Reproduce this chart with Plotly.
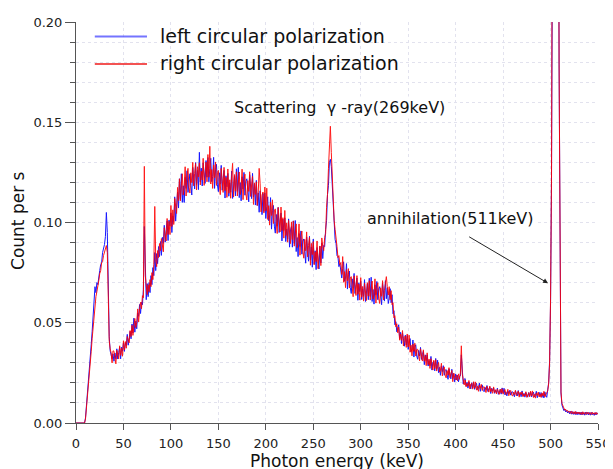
import numpy as np
import plotly.graph_objects as go

# Photon energy bins (keV)
energy_keV = list(range(0, 551))

# Count rate, in units of 1e-4 counts per second, one value per keV bin
left_cps_e4 = [
    0, 0, 0, 0, 0, 0, 0, 0, 0, 0,
    25, 80, 145, 200, 270, 330, 390, 455, 540, 640,
    680, 650, 700, 690, 740, 760, 790, 800, 850, 870,
    890, 930, 1050, 950, 680, 430, 360, 340, 320, 345,
    308, 349, 319, 370, 319, 352, 378, 320, 378, 358,
    400, 357, 399, 387, 442, 388, 439, 457, 420, 494,
    449, 523, 453, 508, 470, 549, 532, 591, 546, 602,
    590, 665, 980, 700, 615, 695, 630, 700, 650, 735,
    690, 775, 735, 850, 760, 845, 795, 880, 830, 905,
    836, 926, 896, 986, 902, 962, 1008, 910, 1012, 982,
    1048, 950, 1033, 1005, 1128, 1007, 1113, 1152, 1072, 1218,
    1115, 1243, 1100, 1183, 1100, 1225, 1170, 1258, 1150, 1220,
    1243, 1185, 1137, 1275, 1226, 1167, 1299, 1189, 1260, 1164,
    1350, 1202, 1271, 1182, 1297, 1253, 1195, 1309, 1226, 1324,
    1203, 1270, 1320, 1204, 1230, 1325, 1170, 1264, 1290, 1188,
    1154, 1248, 1191, 1285, 1161, 1218, 1260, 1122, 1233, 1178,
    1245, 1131, 1198, 1151, 1256, 1120, 1210, 1231, 1133, 1268,
    1155, 1275, 1124, 1199, 1108, 1228, 1167, 1250, 1136, 1204,
    1218, 1156, 1103, 1238, 1183, 1119, 1245, 1127, 1190, 1087,
    1210, 1085, 1148, 1051, 1158, 1106, 1039, 1145, 1055, 1147,
    1020, 1081, 1128, 1009, 1032, 1124, 967, 1060, 1085, 982,
    947, 1040, 982, 1075, 950, 1006, 1047, 908, 1017, 960,
    1023, 905, 968, 917, 1018, 877, 963, 980, 877, 1008,
    895, 1010, 855, 925, 830, 945, 880, 958, 842, 907,
    918, 853, 797, 928, 872, 807, 931, 814, 878, 777,
    917, 794, 859, 765, 875, 828, 768, 881, 798, 898,
    820, 885, 880, 965, 1010, 1140, 1185, 1300, 1315, 1280,
    1200, 1070, 1000, 915, 895, 835, 830, 780, 795, 750,
    723, 770, 804, 707, 723, 795, 668, 740, 758, 675,
    646, 719, 672, 746, 646, 690, 723, 612, 699, 655,
    707, 616, 669, 632, 715, 606, 677, 694, 615, 722,
    631, 727, 606, 666, 593, 689, 640, 706, 615, 669,
    680, 632, 590, 698, 656, 608, 710, 620, 674, 596,
    620, 670, 600, 640, 545, 560, 490, 505, 455, 480,
    490, 421, 452, 396, 449, 420, 383, 438, 389, 436,
    367, 398, 421, 356, 367, 414, 329, 378, 390, 334,
    318, 362, 334, 377, 317, 341, 358, 291, 340, 311,
    340, 284, 312, 286, 332, 264, 303, 309, 260, 322,
    268, 313, 251, 278, 238, 283, 256, 286, 238, 263,
    267, 241, 218, 270, 247, 220, 268, 221, 246, 205,
    245, 215, 238, 205, 232, 235, 340, 240, 195, 218,
    222, 185, 203, 174, 205, 190, 170, 201, 175, 202,
    168, 185, 198, 167, 174, 199, 158, 183, 190, 163,
    156, 178, 165, 187, 157, 171, 180, 147, 173, 160,
    175, 148, 163, 151, 174, 143, 162, 167, 144, 175,
    149, 173, 140, 155, 135, 160, 147, 163, 139, 154,
    156, 143, 131, 160, 148, 135, 162, 137, 151, 131,
    160, 134, 148, 129, 152, 142, 129, 152, 135, 155,
    130, 144, 154, 130, 137, 158, 126, 146, 153, 132,
    152, 128, 147, 125, 155, 138, 128, 165, 200, 310,
    600, 1200, 3500, 5800, 6000, 6000, 5900, 5600, 3600, 1800,
    500, 150, 90, 75, 62, 70, 55, 62, 50, 60,
    46, 58, 44, 57, 43, 55, 42, 56, 41, 54,
    42, 54, 40, 55, 41, 52, 39, 54, 42, 53,
    40, 52, 39, 53, 41, 50, 38, 52, 40, 51,
    46,
]

right_cps_e4 = [
    0, 0, 0, 0, 0, 0, 0, 0, 0, 0,
    20, 70, 130, 185, 250, 305, 355, 420, 480, 550,
    590, 630, 655, 700, 710, 745, 760, 800, 805, 835,
    850, 875, 885, 850, 620, 410, 370, 350, 300, 360,
    358, 324, 295, 363, 344, 320, 385, 337, 374, 333,
    410, 364, 406, 373, 431, 420, 400, 461, 431, 487,
    437, 483, 521, 476, 502, 569, 504, 571, 602, 570,
    635, 625, 1280, 735, 660, 640, 690, 655, 715, 680,
    750, 715, 790, 1080, 815, 780, 860, 825, 895, 860,
    920, 884, 854, 974, 944, 908, 1020, 940, 1006, 940,
    1085, 980, 1063, 990, 1120, 1090, 1045, 1175, 1110, 1218,
    1107, 1183, 1243, 1138, 1175, 1278, 1132, 1235, 1270, 1174,
    1147, 1248, 1199, 1300, 1183, 1245, 1294, 1162, 1278, 1227,
    1298, 1187, 1256, 1212, 1320, 1185, 1278, 1301, 1203, 1339,
    1226, 1380, 1192, 1264, 1170, 1287, 1223, 1302, 1185, 1249,
    1260, 1195, 1139, 1270, 1214, 1150, 1275, 1159, 1225, 1125,
    1267, 1146, 1213, 1121, 1233, 1295, 1127, 1239, 1156, 1253,
    1132, 1200, 1252, 1139, 1168, 1266, 1114, 1212, 1241, 1143,
    1112, 1209, 1155, 1253, 1130, 1187, 1230, 1090, 1198, 1140,
    1203, 1085, 1148, 1270, 1196, 1053, 1137, 1152, 1047, 1177,
    1058, 1171, 1015, 1084, 987, 1101, 1035, 1113, 995, 1058,
    1068, 1002, 945, 1075, 1018, 953, 1077, 960, 1024, 922,
    1060, 935, 998, 902, 1010, 960, 895, 1003, 915, 1008,
    882, 945, 993, 875, 900, 993, 837, 930, 957, 856,
    822, 916, 859, 953, 829, 885, 926, 787, 896, 840,
    905, 789, 854, 805, 908, 770, 861, 883, 785, 923,
    880, 860, 925, 945, 1075, 1140, 1270, 1390, 1480, 1350,
    1215, 1125, 1010, 965, 895, 880, 825, 835, 790, 800,
    741, 830, 702, 755, 675, 765, 710, 770, 674, 723,
    730, 677, 630, 734, 688, 636, 735, 642, 693, 613,
    725, 628, 681, 608, 697, 660, 611, 700, 633, 710,
    613, 667, 708, 618, 641, 719, 598, 676, 699, 621,
    596, 674, 632, 710, 614, 662, 698, 730, 680, 638,
    680, 615, 660, 590, 600, 525, 535, 480, 495, 450,
    478, 413, 444, 412, 461, 384, 427, 434, 377, 444,
    379, 438, 353, 388, 335, 394, 357, 398, 334, 366,
    368, 337, 310, 370, 342, 309, 365, 308, 336, 286,
    350, 291, 319, 272, 321, 296, 264, 313, 271, 315,
    259, 283, 302, 254, 262, 298, 235, 271, 280, 239,
    225, 262, 239, 276, 226, 247, 262, 206, 249, 226,
    215, 240, 210, 245, 218, 250, 385, 245, 222, 190,
    215, 180, 198, 183, 212, 170, 195, 199, 169, 206,
    174, 205, 164, 183, 158, 189, 172, 193, 162, 179,
    181, 166, 152, 183, 170, 154, 184, 156, 171, 148,
    180, 152, 166, 145, 169, 158, 143, 169, 149, 171,
    144, 157, 167, 142, 148, 168, 136, 155, 162, 141,
    134, 154, 142, 163, 136, 149, 159, 129, 153, 142,
    155, 131, 145, 135, 156, 128, 147, 151, 130, 159,
    135, 160, 127, 143, 124, 150, 137, 154, 130, 145,
    128, 150, 135, 158, 130, 146, 152, 160, 195, 300,
    620, 1220, 3520, 5850, 6050, 6020, 5930, 5620, 3580, 1790,
    510, 155, 98, 82, 75, 64, 68, 58, 62, 54,
    58, 48, 60, 46, 56, 45, 58, 44, 55, 46,
    55, 44, 53, 42, 56, 44, 52, 43, 55, 44,
    53, 43, 52, 42, 54, 44, 51, 42, 53, 44,
    48,
]

series_names = ["left circular polarization", "right circular polarization"]
series_colors = ["#0000FF", "#FF0000"]

left_cps = np.array(left_cps_e4) / 1e4
right_cps = np.array(right_cps_e4) / 1e4

FONT = "DejaVu Sans, Noto Sans, sans-serif"
GRID = "#e2e2ee"
AXIS = "#555555"

fig = go.Figure()
fig.add_trace(go.Scatter(x=energy_keV, y=left_cps, mode="lines",
                         name=series_names[0],
                         line=dict(color=series_colors[0], width=1),
                         opacity=0.9, showlegend=False))
fig.add_trace(go.Scatter(x=energy_keV, y=right_cps, mode="lines",
                         name=series_names[1],
                         line=dict(color=series_colors[1], width=1),
                         opacity=0.9, showlegend=False))

# Manual legend (white box hiding the grid, long line samples)
shapes = [
    dict(type="rect", xref="paper", yref="paper", x0=0.027, x1=0.611, y0=0.848, y1=1.0,
         fillcolor="white", line=dict(width=0), layer="between"),
    dict(type="line", xref="paper", yref="paper", x0=0.036, x1=0.136, y0=0.964, y1=0.964,
         line=dict(color="rgba(70,70,255,0.75)", width=2), layer="above"),
    dict(type="line", xref="paper", yref="paper", x0=0.036, x1=0.136, y0=0.895, y1=0.895,
         line=dict(color="rgba(240,40,40,0.8)", width=2), layer="above"),
]

annotations = [
    dict(text=series_names[0], xref="paper", yref="paper", x=0.157, y=0.966,
         xanchor="left", yanchor="middle", showarrow=False,
         font=dict(family=FONT, size=19, color="#111")),
    dict(text=series_names[1], xref="paper", yref="paper", x=0.157, y=0.897,
         xanchor="left", yanchor="middle", showarrow=False,
         font=dict(family=FONT, size=19, color="#111")),
    dict(text="Scattering\u00a0\u00a0γ\u00a0-ray(269keV)", xref="paper", yref="paper",
         x=0.504, y=0.788, xanchor="center", yanchor="middle", showarrow=False,
         bgcolor="white", font=dict(family=FONT, size=16, color="#111")),
    dict(text="annihilation(511keV)", xref="paper", yref="paper", x=0.717, y=0.511,
         xanchor="center", yanchor="middle", showarrow=False, bgcolor="white",
         font=dict(family=FONT, size=16, color="#111")),
    dict(text="", x=497.4, y=0.0697, xref="x", yref="y", ax=412.7, ay=0.0933,
         axref="x", ayref="y", showarrow=True, arrowhead=2, arrowsize=1,
         arrowwidth=1, arrowcolor="#222"),
    dict(text="Photon energy (keV)", xref="paper", yref="paper", x=0.5, y=-0.095,
         xanchor="center", yanchor="middle", showarrow=False,
         font=dict(family=FONT, size=17, color="#111")),
    dict(text="Count per s", xref="paper", yref="paper", x=-0.111, y=0.504,
         xanchor="center", yanchor="middle", showarrow=False, textangle=-90,
         font=dict(family=FONT, size=17, color="#111")),
]

fig.update_layout(
    width=605, height=461, autosize=False,
    margin=dict(l=68, r=15, t=14, b=46),
    paper_bgcolor="white", plot_bgcolor="white",
    showlegend=False,
    font=dict(family=FONT, size=13, color="#222"),
    shapes=shapes, annotations=annotations,
    xaxis=dict(range=[0, 550], tick0=0, dtick=50, showline=True, linecolor=AXIS,
               linewidth=1, ticks="outside", ticklen=6, tickcolor=AXIS,
               showgrid=True, gridcolor=GRID, griddash="dot", gridwidth=1,
               zeroline=False, automargin=False,
               tickfont=dict(size=13, color="#222"), ticklabelstandoff=2),
    yaxis=dict(range=[0, 0.2], tick0=0, dtick=0.05, tickformat=".2f", showline=True,
               linecolor=AXIS, linewidth=1, ticks="outside", ticklen=10,
               tickcolor=AXIS, showgrid=True, gridcolor=GRID, griddash="dot",
               gridwidth=1, zeroline=False, automargin=False,
               tickfont=dict(size=13, color="#222"),
               minor=dict(dtick=0.01, ticks="outside", ticklen=5, tickcolor=AXIS,
                          showgrid=True, gridcolor=GRID, griddash="dot")),
)

fig.write_html("out.html",
               post_script="document.documentElement.style.overflow = 'hidden';")
